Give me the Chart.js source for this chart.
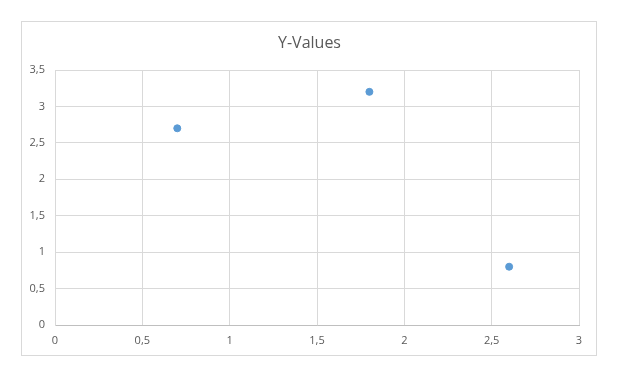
<!DOCTYPE html>
<html>
<head>
<meta charset="utf-8">
<script src="https://cdn.jsdelivr.net/npm/chart.js@4/dist/chart.umd.min.js"></script>
<style>
  html, body { margin: 0; padding: 0; background: #fff; }
  #wrap { width: 624px; height: 391px; }
</style>
</head>
<body>
<div id="wrap"><canvas id="chart"></canvas></div>
<script>
var chartTitle = 'Y-Values'
var xValues = [0.7, 1.8, 2.6]
var yValues = [2.7, 3.2, 0.8]
var xTicks = [0, 0.5, 1, 1.5, 2, 2.5, 3]
var yTicks = [0, 0.5, 1, 1.5, 2, 2.5, 3, 3.5]

var points = xValues.map(function (x, i) { return { x: x, y: yValues[i] } })

function comma (v) { return String(v).replace('.', ',') }

// outer chart border plus a title centred on that border (not on the plot)
var frame = {
  id: 'frame',
  beforeDraw: function (chart) {
    var c = chart.ctx
    c.save()
    c.fillStyle = '#fff'
    c.fillRect(0, 0, chart.width, chart.height)
    c.strokeStyle = '#d9d9d9'
    c.lineWidth = 1
    c.strokeRect(21.5, 21.5, 575, 334)
    c.fillStyle = '#595959'
    c.font = '16px "Open Sans"'
    c.textAlign = 'center'
    c.textBaseline = 'middle'
    c.fillText(chartTitle, 309.5, 43)
    c.restore()
  }
}

var ctx = document.getElementById('chart')
new Chart(ctx, {
  type: 'scatter',
  data: {
    datasets: [{
      label: chartTitle,
      data: points,
      backgroundColor: '#5B9BD5',
      borderColor: '#5B9BD5',
      pointRadius: 3.5
    }]
  },
  options: {
    responsive: true,
    maintainAspectRatio: false,
    animation: false,
    layout: { padding: { left: 25, right: 45, top: 70, bottom: 30 } },
    plugins: {
      legend: { display: false },
      tooltip: { enabled: false },
      title: { display: false }
    },
    scales: {
      x: {
        type: 'linear',
        min: 0,
        max: 3,
        afterBuildTicks: function (s) { s.ticks = xTicks.map(function (v) { return { value: v } }) },
        afterFit: function (s) { s.height = 36 },
        grid: { color: '#d9d9d9', drawTicks: false },
        border: { color: '#bfbfbf' },
        ticks: {
          padding: 9,
          color: '#595959',
          font: { family: 'Open Sans', size: 11 },
          callback: comma
        }
      },
      y: {
        type: 'linear',
        min: 0,
        max: 3.5,
        afterBuildTicks: function (s) { s.ticks = yTicks.map(function (v) { return { value: v } }) },
        afterFit: function (s) { s.width = 30 },
        grid: { color: '#d9d9d9', drawTicks: false },
        border: { color: '#d9d9d9' },
        ticks: {
          padding: 10,
          color: '#595959',
          font: { family: 'Open Sans', size: 11 },
          callback: comma
        }
      }
    }
  },
  plugins: [frame]
})
</script>
</body>
</html>
